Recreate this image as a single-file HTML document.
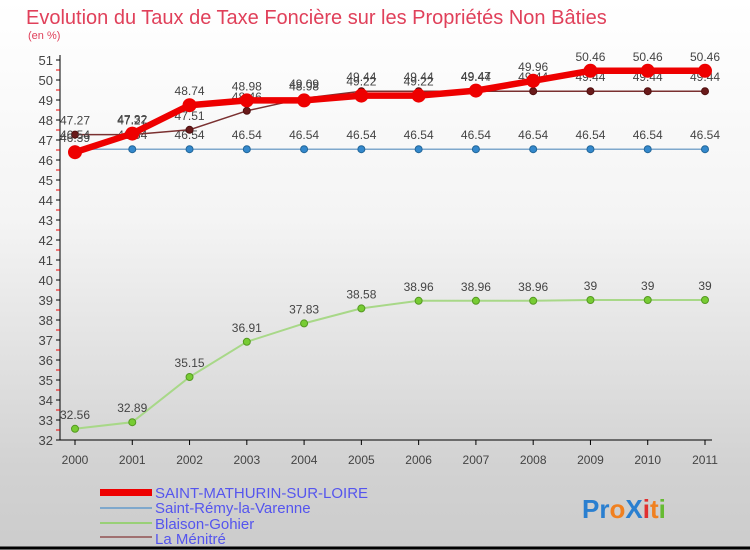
<!DOCTYPE html>
<html><head><meta charset="utf-8"><style>
body{margin:0}
#wrap{width:750px;height:550px;position:relative;overflow:hidden;background:linear-gradient(#ffffff 0%,#f4f4f4 40%,#d2d2d2 85%,#cccccc 100%);font-family:"Liberation Sans",sans-serif}
</style></head><body>
<div id="wrap">
<svg id="chart" width="750" height="550" font-family="Liberation Sans, sans-serif">
<text x="26" y="24" font-size="20" fill="#e0405a">Evolution du Taux de Taxe Foncière sur les Propriétés Non Bâties</text>
<text x="28" y="39" font-size="11" fill="#e0405a">(en %)</text>
<line x1="0" y1="548" x2="750" y2="548" stroke="#000" stroke-width="3"/>
<g id="axes"></g><g id="series"></g>
<g>
<rect x="100" y="489" width="52" height="7" fill="#ee0000"/>
<text x="155" y="498" font-size="15" fill="#5555ee">SAINT-MATHURIN-SUR-LOIRE</text>
<line x1="100" y1="508" x2="152" y2="508" stroke="#7fa8cc" stroke-width="2"/>
<text x="155" y="513" font-size="15" fill="#5555ee">Saint-Rémy-la-Varenne</text>
<line x1="100" y1="523" x2="152" y2="523" stroke="#99d077" stroke-width="2"/>
<text x="155" y="529" font-size="15" fill="#5555ee">Blaison-Gohier</text>
<line x1="100" y1="537" x2="152" y2="537" stroke="#a07070" stroke-width="2"/>
<text x="155" y="544" font-size="15" fill="#5555ee">La Ménitré</text>
</g>
<text x="582" y="518" font-size="26" font-weight="bold"><tspan fill="#2a7fd0">Pr</tspan><tspan fill="#f08020">o</tspan><tspan fill="#2a7fd0">X</tspan><tspan fill="#e03030">i</tspan><tspan fill="#f08020">t</tspan><tspan fill="#66bb33">i</tspan></text>
</svg></div>
<script>
const years=[2000,2001,2002,2003,2004,2005,2006,2007,2008,2009,2010,2011];
const stMathurin=[46.39,47.32,48.74,48.98,48.98,49.22,49.22,49.47,49.96,50.46,50.46,50.46];
const stRemy=[46.54,46.54,46.54,46.54,46.54,46.54,46.54,46.54,46.54,46.54,46.54,46.54];
const blaison=[32.56,32.89,35.15,36.91,37.83,38.58,38.96,38.96,38.96,39,39,39];
const laMenitre=[47.27,47.27,47.51,48.46,49.09,49.44,49.44,49.44,49.44,49.44,49.44,49.44];
const yTicks=[32,33,34,35,36,37,38,39,40,41,42,43,44,45,46,47,48,49,50,51];
const NS="http://www.w3.org/2000/svg";
const xS=i=>75+i*(630/11);
const yS=v=>440-(v-32)*20;
function mk(t,a,p){const e=document.createElementNS(NS,t);for(const k in a)e.setAttribute(k,a[k]);p.appendChild(e);return e;}
const ax=document.getElementById('axes');
let l=mk('line',{x1:60,y1:55,x2:60,y2:440,stroke:'#000'},ax);


l=mk('line',{x1:60,y1:440,x2:712,y2:440,stroke:'#000'},ax);


yTicks.forEach(v=>{
 mk('line',{x1:56,y1:yS(v),x2:60,y2:yS(v),stroke:'#000'},ax);
 if(v<51) mk('line',{x1:56,y1:yS(v+0.5),x2:60,y2:yS(v+0.5),stroke:'#e00'},ax);
 const t=mk('text',{x:53,y:yS(v)+5,'font-size':13,fill:'#444','text-anchor':'end'},ax);
 t.textContent=v;
 
 
});
years.forEach((y,i)=>{
 mk('line',{x1:xS(i),y1:440,x2:xS(i),y2:445,stroke:'#000'},ax);
 const t=mk('text',{x:xS(i),y:464,'font-size':12,fill:'#444','text-anchor':'middle'},ax);
 t.textContent=y;
 
 
});
const sg=document.getElementById('series');
function draw(data,name,col,w,r,fill,stroke){
 const g=mk('g',{},sg);
 
 
 mk('polyline',{points:data.map((v,i)=>xS(i)+','+yS(v)).join(' '),fill:'none',stroke:col,'stroke-width':w,'stroke-linejoin':'round'},g);
 data.forEach((v,i)=>{
  const c=mk('circle',{cx:xS(i),cy:yS(v),r:r,fill:fill,stroke:stroke,'stroke-width':1},g);
  
  
  const t=mk('text',{x:xS(i),y:yS(v)-10,'font-size':12,fill:'#444','text-anchor':'middle'},g);
  t.textContent=v;
  
  
 });
}
draw(blaison,'blaison-gohier-line','#a8d888',2,3.5,'#77cc33','#559922');
draw(stRemy,'saint-remy-line','#7fa8cc',1.5,3.5,'#3388cc','#226699');
draw(laMenitre,'la-menitre-line','#7a3030',1.5,3.5,'#6a1a1a','#501010');
draw(stMathurin,'saint-mathurin-line','#ee0000',6.5,6.5,'#ee0000','#ee0000');
</script>
</body></html>
